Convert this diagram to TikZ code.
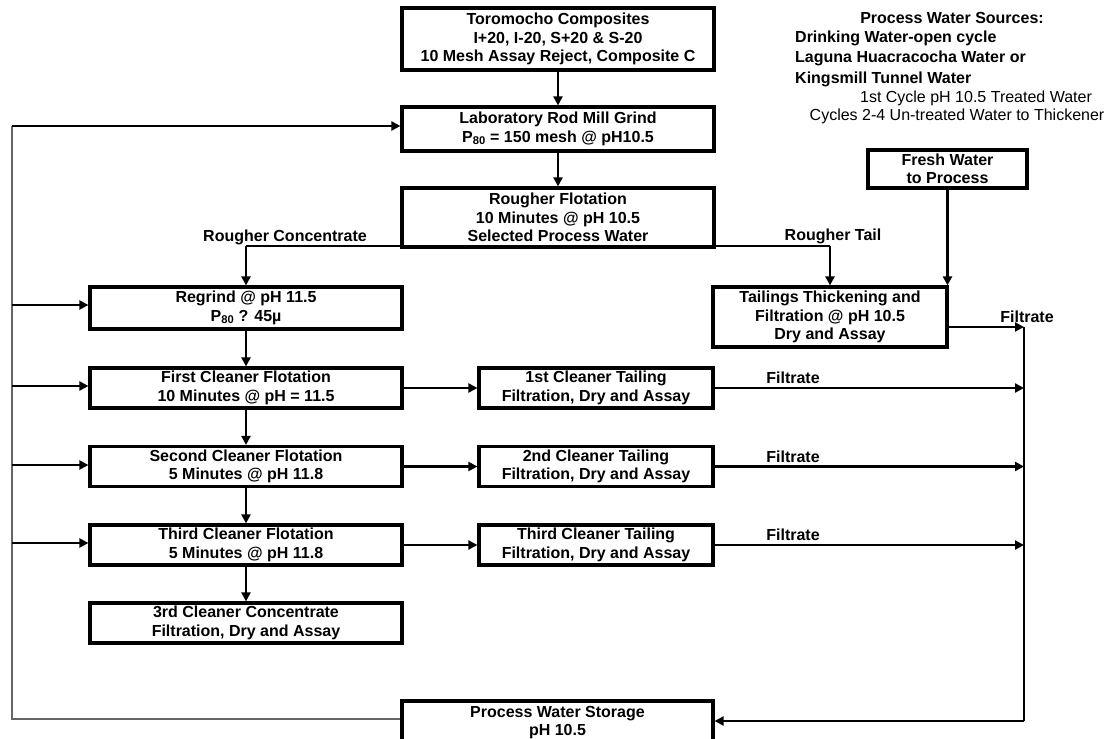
\documentclass[tikz,border=0pt]{standalone}
\usepackage{fontspec}
\setmainfont{Liberation Sans}
\usetikzlibrary{arrows.meta}
\tikzset{
  box/.style={draw, line width=3.2pt, inner sep=0pt, align=center,
    font=\fontsize{16}{18.5}\selectfont\bfseries},
  lbl/.style={inner sep=0pt, font=\fontsize{16}{18.5}\selectfont\bfseries},
  rlbl/.style={inner sep=0pt, font=\fontsize{16}{18.5}\selectfont},
  arr/.style={line width=2.2pt, -{Triangle[length=9pt,width=9pt]}},
  thinline/.style={line width=1.1pt},
  grayline/.style={line width=1.4pt, black!60},
}
\begin{document}
\begin{tikzpicture}[x=1pt,y=-1pt]
\useasboundingbox (0,0) rectangle (1107,738);
\clip (0,0) rectangle (1107,738);
% boxes
\node[box, minimum width=312pt, minimum height=62pt] (toro) at (558,39)
  {Toromocho Composites\\I+20, I-20, S+20 \& S-20\\10 Mesh Assay Reject, Composite C};
\node[box, minimum width=312pt, minimum height=44pt] (lab) at (558,129)
  {Laboratory Rod Mill Grind\\P\textsubscript{80} = 150 mesh @ pH10.5};
\node[box, minimum width=312pt, minimum height=59pt] (rough) at (558,217.5)
  {Rougher Flotation\\10 Minutes @ pH 10.5\\Selected Process Water};
\node[box, minimum width=312pt, minimum height=42pt] (regrind) at (246,308)
  {Regrind @ pH 11.5\\P\textsubscript{80} ? 45µ};
\node[box, minimum width=234pt, minimum height=60pt] (tail) at (830,317)
  {Tailings Thickening and\\Filtration @ pH 10.5\\Dry and Assay};
\node[box, minimum width=159pt, minimum height=38pt] (fresh) at (947.5,169)
  {Fresh Water\\to Process};
\node[box, minimum width=312pt, minimum height=40pt] (fc1) at (246,388)
  {First Cleaner Flotation\\10 Minutes @ pH = 11.5};
\node[box, minimum width=234pt, minimum height=40pt] (ct1) at (596,388)
  {1st Cleaner Tailing\\Filtration, Dry and Assay};
\node[box, minimum width=312pt, minimum height=40pt] (fc2) at (246,466.5)
  {Second Cleaner Flotation\\5 Minutes @ pH 11.8};
\node[box, minimum width=234pt, minimum height=40pt] (ct2) at (596,466.5)
  {2nd Cleaner Tailing\\Filtration, Dry and Assay};
\node[box, minimum width=312pt, minimum height=40pt] (fc3) at (246,545)
  {Third Cleaner Flotation\\5 Minutes @ pH 11.8};
\node[box, minimum width=234pt, minimum height=40pt] (ct3) at (596,545)
  {Third Cleaner Tailing\\Filtration, Dry and Assay};
\node[box, minimum width=312pt, minimum height=40pt] (conc) at (246,623)
  {3rd Cleaner Concentrate\\Filtration, Dry and Assay};
\node[box, minimum width=311pt, minimum height=43pt] (pws) at (557.5,722.5)
  {Process Water Storage\\pH 10.5};
% water sources text
\node[lbl] (ws0) at (952,18) {Process Water Sources:};
\node[lbl, anchor=west] (ws1) at (795,38) {Drinking Water-open cycle};
\node[lbl, anchor=west] (ws2) at (795,58) {Laguna Huacracocha Water or};
\node[lbl, anchor=west] (ws3) at (795,79) {Kingsmill Tunnel Water};
\node[rlbl] (ws4) at (976,98) {1st Cycle pH 10.5 Treated Water};
\node[rlbl] (ws5) at (957,116) {Cycles 2-4 Un-treated Water to Thickener};
% main chain
\draw[arr] (toro.south) -- (lab.north);
\draw[arr] (lab.south) -- (rough.north);
% rougher concentrate
\coordinate (rc) at (246,246);
\draw[thinline] (rough.west |- rc) -- (rc);
\draw[arr] (rc) -- (regrind.north);
\node[lbl] (rclbl) at (285,237) {Rougher Concentrate};
% rougher tail
\coordinate (rt) at (830,246);
\draw[thinline] (rough.east |- rt) -- (rt);
\draw[arr] (rt) -- (tail.north);
\node[lbl] (rtlbl) at (833,236) {Rougher Tail};
% fresh water
\draw[arr] (fresh.south) -- (fresh.south |- tail.north);
% cleaner chain
\draw[arr] (regrind.south) -- (fc1.north);
\draw[arr] (fc1.south) -- (fc2.north);
\draw[arr] (fc2.south) -- (fc3.north);
\draw[arr] (fc3.south) -- (conc.north);
\draw[arr] (fc1.east) -- (ct1.west);
\draw[arr] (fc2.east) -- (ct2.west);
\draw[arr] (fc3.east) -- (ct3.west);
% filtrate collection
\coordinate (rv) at (1024,327);
\coordinate (rb) at (1024,721);
\draw[arr] (tail.east |- rv) -- (rv);
\node[lbl] (f0) at (1027,317) {Filtrate};
\draw[thinline] (rv) -- (rb);
\draw[arr] (ct1.east) -- (ct1.east -| rv);
\draw[arr] (ct2.east) -- (ct2.east -| rv);
\draw[arr] (ct3.east) -- (ct3.east -| rv);
\node[lbl] (f1) at (793,378) {Filtrate};
\node[lbl] (f2) at (793,456.5) {Filtrate};
\node[lbl] (f3) at (793,535) {Filtrate};
\draw[arr] (rb) -- (rb -| pws.east);
% recycle to left
\coordinate (lb) at (12,719);
\coordinate (lt) at (12,126);
\draw[grayline] (pws.west |- lb) -- (lb) -- (lt);
\draw[arr] (lt) -- (lt -| lab.west);
\draw[arr] (12,305) -- (regrind.west |- 0,305);
\draw[arr] (12,386) -- (fc1.west |- 0,386);
\draw[arr] (12,465) -- (fc2.west |- 0,465);
\draw[arr] (12,543) -- (fc3.west |- 0,543);
\end{tikzpicture}
\end{document}
